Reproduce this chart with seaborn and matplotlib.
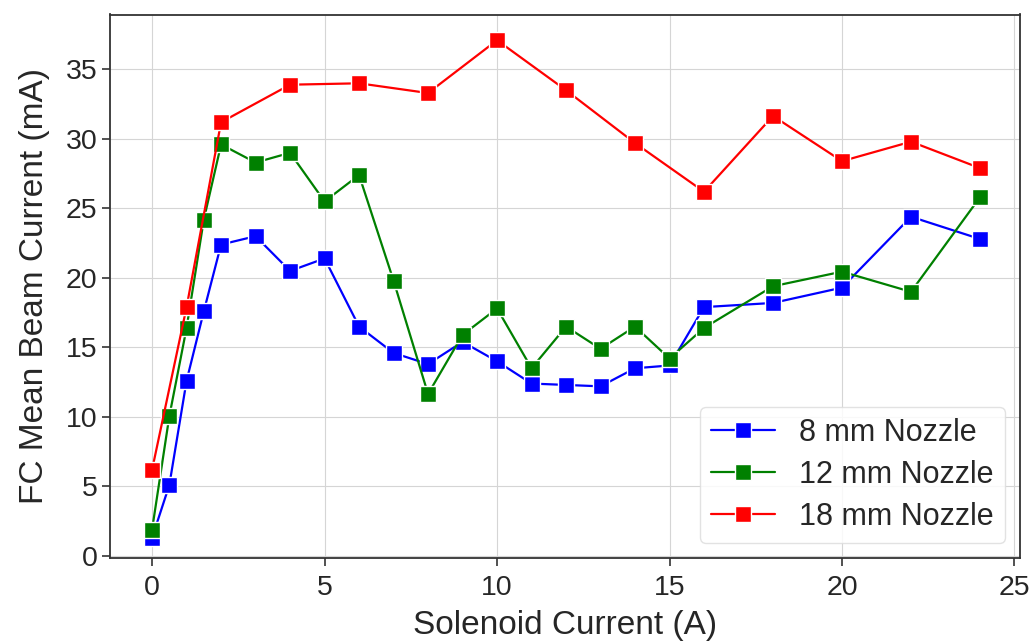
import matplotlib
matplotlib.use("Agg")
import matplotlib.pyplot as plt
import seaborn as sns
import pandas as pd

# Solenoid current sweeps (A) and measured Faraday-cup mean beam current (mA)
x_8mm = [0, 0.5, 1, 1.5, 2, 3, 4, 5, 6, 7, 8, 9, 10, 11, 12, 13, 14, 15, 16, 18, 20, 22, 24]
y_8mm = [1.3, 5.1, 12.6, 17.6, 22.4, 23.0, 20.5, 21.4, 16.5, 14.6, 13.8, 15.4, 14.0, 12.4, 12.3, 12.2, 13.5, 13.7, 17.9, 18.2, 19.3, 24.4, 22.8]

x_12mm = [0, 0.5, 1, 1.5, 2, 3, 4, 5, 6, 7, 8, 9, 10, 11, 12, 13, 14, 15, 16, 18, 20, 22, 24]
y_12mm = [1.9, 10.05, 16.4, 24.2, 29.6, 28.3, 29.0, 25.5, 27.4, 19.8, 11.65, 15.9, 17.8, 13.5, 16.5, 14.9, 16.5, 14.2, 16.4, 19.4, 20.45, 19.0, 25.8]

x_18mm = [0, 1, 2, 4, 6, 8, 10, 12, 14, 16, 18, 20, 22, 24]
y_18mm = [6.2, 17.9, 31.2, 33.9, 34.0, 33.3, 37.1, 33.5, 29.7, 26.2, 31.65, 28.4, 29.8, 27.9]

labels = ["8 mm Nozzle", "12 mm Nozzle", "18 mm Nozzle"]
colors = ["blue", "green", "red"]

df = pd.concat([
    pd.DataFrame({"current": x, "beam": y, "nozzle": lab})
    for x, y, lab in zip([x_8mm, x_12mm, x_18mm], [y_8mm, y_12mm, y_18mm], labels)
], ignore_index=True)

sns.set_style("whitegrid", {
    "axes.edgecolor": "#333333",
    "grid.color": "#d5d5d5",
    "xtick.bottom": True,
    "ytick.left": True,
})
plt.rcParams["font.family"] = ["Liberation Sans", "DejaVu Sans"]

fig = plt.figure(figsize=(10.34, 6.41), dpi=100)
ax = fig.add_axes([110 / 1034, 1 - 558 / 641, 910 / 1034, 543.5 / 641])

sns.lineplot(
    data=df, x="current", y="beam", hue="nozzle", hue_order=labels,
    palette=dict(zip(labels, colors)), marker="s", markersize=11,
    markeredgecolor="white", markeredgewidth=1.0, linewidth=1.6,
    sort=False, ax=ax,
)

ax.set_xlim(-1.22, 25.16)
ax.set_ylim(-0.15, 38.95)
ax.set_xticks([0, 5, 10, 15, 20, 25])
ax.set_yticks([0, 5, 10, 15, 20, 25, 30, 35])
ax.tick_params(axis="x", pad=6)
ax.tick_params(axis="y", pad=3)
ax.tick_params(axis="both", labelsize=20.5, length=6, width=1.2, color="#333333",
               labelcolor="#262626")
for s in ax.spines.values():
    s.set_linewidth(1.3)

ax.set_xlabel("Solenoid Current (A)", fontsize=24, color="#262626", labelpad=7)
ax.set_ylabel("FC Mean Beam Current (mA)", fontsize=24, color="#262626", labelpad=11)

leg = ax.legend(loc="lower right", fontsize=22, frameon=True, borderpad=0.35,
                handlelength=2.1, handletextpad=0.8, labelspacing=0.4)
leg.get_frame().set_edgecolor("#dddddd")
leg.get_frame().set_alpha(0.85)

fig.savefig("out.png", dpi=100)
